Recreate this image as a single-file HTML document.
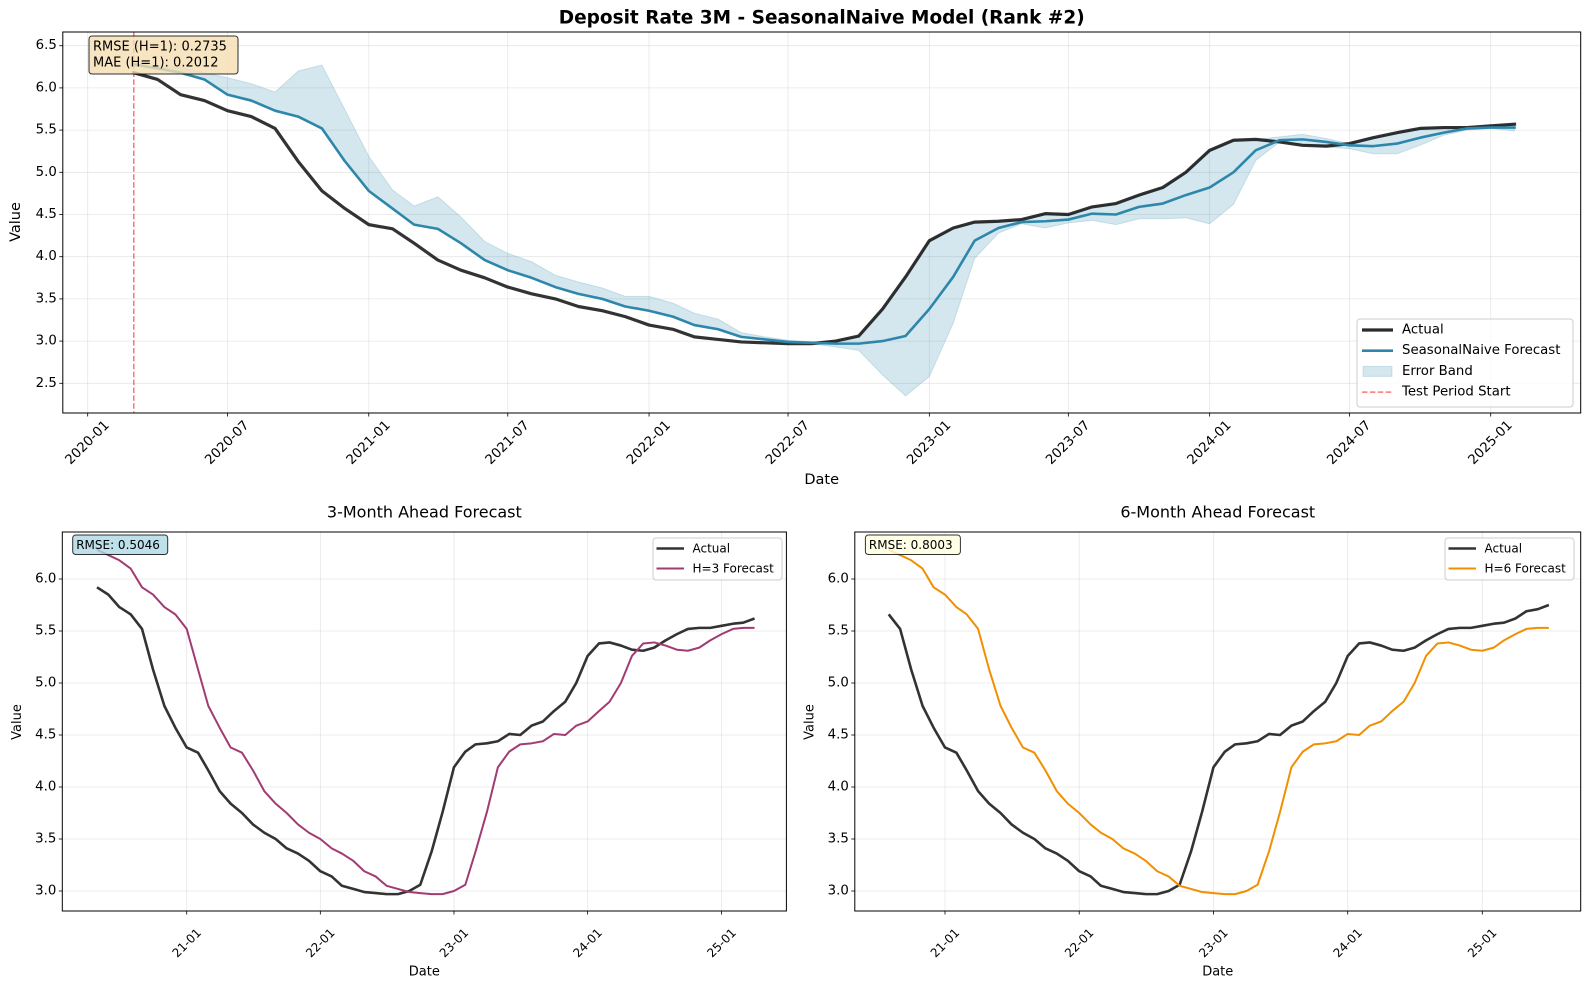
<!DOCTYPE html>
<html><head><meta charset="utf-8"><title>Deposit Rate 3M - SeasonalNaive</title>
<style>
html,body{margin:0;padding:0;background:#fff;}
svg{display:block;font-family:"DejaVu Sans","Liberation Sans",sans-serif;}
</style></head>
<body>
<svg id="fig" width="1589" height="989" viewBox="0 0 1589 989" xmlns="http://www.w3.org/2000/svg"></svg>
<script>
// ---------- DATA ----------
// Top panel: monthly dates 2020-03 .. 2025-02
const topStart = [2020, 3];
const topActual = [6.18,6.10,5.92,5.85,5.73,5.66,5.52,5.13,4.78,4.57,
  4.38,4.33,4.16,3.96,3.84,3.75,3.64,3.56,3.50,3.41,3.36,3.29,
  3.19,3.14,3.05,3.02,2.99,2.98,2.97,2.97,3.00,3.06,3.38,3.76,
  4.19,4.34,4.41,4.42,4.44,4.51,4.50,4.59,4.63,4.73,4.82,5.00,
  5.26,5.38,5.39,5.36,5.32,5.31,5.34,5.41,5.47,5.52,5.53,5.53,
  5.55,5.57];
const topForecast = [6.28,6.23,6.18,6.10,5.92,5.85,5.73,5.66,5.52,5.13,
  4.78,4.57,4.38,4.33,4.16,3.96,3.84,3.75,3.64,3.56,3.50,3.41,
  3.36,3.29,3.19,3.14,3.05,3.02,2.99,2.98,2.97,2.97,3.00,3.06,
  3.38,3.76,4.19,4.34,4.41,4.42,4.44,4.51,4.50,4.59,4.63,4.73,
  4.82,5.00,5.26,5.38,5.39,5.36,5.32,5.31,5.34,5.41,5.47,5.52,
  5.53,5.53];
const bandUpper = [6.25,6.26,6.24,6.18,6.12,6.05,5.95,6.20,6.27,5.74,
  5.19,4.79,4.60,4.71,4.47,4.18,4.04,3.94,3.78,3.70,3.63,3.53,
  3.53,3.45,3.33,3.26,3.10,3.05,3.01,2.99,3.00,3.06,3.38,3.76,
  4.19,4.34,4.41,4.42,4.44,4.51,4.50,4.59,4.63,4.73,4.82,5.00,
  5.26,5.38,5.39,5.42,5.45,5.40,5.34,5.41,5.47,5.52,5.53,5.53,
  5.55,5.57];
const bandLower = [6.28,6.23,6.18,6.10,5.92,5.85,5.73,5.66,5.52,5.13,
  4.78,4.57,4.38,4.33,4.16,3.96,3.84,3.75,3.64,3.56,3.50,3.41,
  3.36,3.29,3.19,3.14,3.05,3.02,2.99,2.97,2.93,2.89,2.60,2.35,
  2.58,3.21,3.98,4.28,4.39,4.34,4.40,4.43,4.38,4.45,4.45,4.46,
  4.39,4.62,5.14,5.36,5.33,5.30,5.28,5.22,5.22,5.32,5.44,5.50,
  5.52,5.49];
const topYTicks = [2.5,3.0,3.5,4.0,4.5,5.0,5.5,6.0,6.5];
const topYTickLabels = ["2.5","3.0","3.5","4.0","4.5","5.0","5.5","6.0","6.5"];
const topXTicks = [[2020,1],[2020,7],[2021,1],[2021,7],[2022,1],[2022,7],[2023,1],[2023,7],[2024,1],[2024,7],[2025,1]];
const topXTickLabels = ["2020-01","2020-07","2021-01","2021-07","2022-01","2022-07","2023-01","2023-07","2024-01","2024-07","2025-01"];
const testStart = [2020, 3];

// H=3 panel: monthly dates 2020-05 .. 2025-04
const h3Start = [2020, 5];
const h3Actual = [5.92,5.85,5.73,5.66,5.52,5.13,4.78,4.57,
  4.38,4.33,4.16,3.96,3.84,3.75,3.64,3.56,3.50,3.41,3.36,3.29,
  3.19,3.14,3.05,3.02,2.99,2.98,2.97,2.97,3.00,3.06,3.38,3.76,
  4.19,4.34,4.41,4.42,4.44,4.51,4.50,4.59,4.63,4.73,4.82,5.00,
  5.26,5.38,5.39,5.36,5.32,5.31,5.34,5.41,5.47,5.52,5.53,5.53,
  5.55,5.57,5.58,5.62];
const h3Forecast = [6.28,6.23,6.18,6.10,5.92,5.85,5.73,5.66,
  5.52,5.13,4.78,4.57,4.38,4.33,4.16,3.96,3.84,3.75,3.64,3.56,
  3.50,3.41,3.36,3.29,3.19,3.14,3.05,3.02,2.99,2.98,2.97,2.97,
  3.00,3.06,3.38,3.76,4.19,4.34,4.41,4.42,4.44,4.51,4.50,4.59,
  4.63,4.73,4.82,5.00,5.26,5.38,5.39,5.36,5.32,5.31,5.34,5.41,
  5.47,5.52,5.53,5.53];

// H=6 panel: monthly dates 2020-08 .. 2025-07
const h6Start = [2020, 8];
const h6Actual = [5.66,5.52,5.13,4.78,4.57,
  4.38,4.33,4.16,3.96,3.84,3.75,3.64,3.56,3.50,3.41,3.36,3.29,
  3.19,3.14,3.05,3.02,2.99,2.98,2.97,2.97,3.00,3.06,3.38,3.76,
  4.19,4.34,4.41,4.42,4.44,4.51,4.50,4.59,4.63,4.73,4.82,5.00,
  5.26,5.38,5.39,5.36,5.32,5.31,5.34,5.41,5.47,5.52,5.53,5.53,
  5.55,5.57,5.58,5.62,5.69,5.71,5.75];
const h6Forecast = [6.28,6.23,6.18,6.10,5.92,
  5.85,5.73,5.66,5.52,5.13,4.78,4.57,4.38,4.33,4.16,3.96,3.84,
  3.75,3.64,3.56,3.50,3.41,3.36,3.29,3.19,3.14,3.05,3.02,2.99,
  2.98,2.97,2.97,3.00,3.06,3.38,3.76,4.19,4.34,4.41,4.42,4.44,
  4.51,4.50,4.59,4.63,4.73,4.82,5.00,5.26,5.38,5.39,5.36,5.32,
  5.31,5.34,5.41,5.47,5.52,5.53,5.53];
const botYTicks = [3.0,3.5,4.0,4.5,5.0,5.5,6.0];
const botYTickLabels = ["3.0","3.5","4.0","4.5","5.0","5.5","6.0"];
const botXTicks = [[2021,1],[2022,1],[2023,1],[2024,1],[2025,1]];
const botXTickLabels = ["21-01","22-01","23-01","24-01","25-01"];

// ---------- HELPERS ----------
const NS = "http://www.w3.org/2000/svg";
const svg = document.getElementById('fig');
function mk(tag, attrs, parent){
  const e = document.createElementNS(NS, tag);
  for (const k in attrs) e.setAttribute(k, attrs[k]);
  (parent||svg).appendChild(e);
  return e;
}
function days(y,m){ return Date.UTC(y, m-1, 1)/86400000; }
function monthSeq(start, n){
  const out=[]; let y=start[0], m=start[1];
  for(let i=0;i<n;i++){ out.push([y,m]); m++; if(m>12){m=1;y++;} }
  return out;
}
function makeX(d0, x0, d1, x1){ return d => x0 + (days(d[0],d[1]) - days(d0[0],d0[1])) * (x1-x0)/(days(d1[0],d1[1]) - days(d0[0],d0[1])); }
function makeY(v0, y0, v1, y1){ return v => y0 + (v - v0) * (y1-y0)/(v1-v0); }
function pathD(dates, vals, X, Y){
  return vals.map((v,i)=>(i?'L':'M')+X(dates[i]).toFixed(2)+','+Y(v).toFixed(2)).join(' ');
}

function axesFrame(p, name){
  const g = mk('g', {});
  
  
  // clip
  const cp = mk('clipPath', {id: name+'-clip'}, g);
  mk('rect', {x:p.l, y:p.t, width:p.r-p.l, height:p.b-p.t}, cp);
  return g;
}

function drawAxes(p, g, xTicks, xLabels, yTicks, yLabels, X, Y, xRot, xlabOff, xlabY, xlabel, ylabX, ylabel, labelSize, tickSize){
  // grid
  const grid = mk('g', {}, g);
  
  
  xTicks.forEach(t=>{ const x=X(t); mk('line',{x1:x,x2:x,y1:p.t,y2:p.b,stroke:'#b0b0b0','stroke-opacity':0.3,'stroke-width':0.8},grid); });
  yTicks.forEach(v=>{ const y=Y(v); mk('line',{x1:p.l,x2:p.r,y1:y,y2:y,stroke:'#b0b0b0','stroke-opacity':0.3,'stroke-width':0.8},grid); });
}
function drawTicks(p, g, xTicks, xLabels, yTicks, yLabels, X, Y, xlabOff, xFont, yFont){
  const tg = mk('g', {}, g);
  
  
  xTicks.forEach((t,i)=>{
    const x=X(t);
    mk('line',{x1:x,x2:x,y1:p.b,y2:p.b+3.5,stroke:'#000','stroke-width':0.8},tg);
    const cy = p.b + xlabOff;
    const tx = mk('text',{x:x,y:cy,'font-size':xFont,'text-anchor':'middle','dominant-baseline':'central',transform:'rotate(-45 '+x+' '+cy+')',fill:'#000'},tg);
    tx.textContent = xLabels[i];
    
    
  });
  const yg = mk('g', {}, g);
  
  
  yTicks.forEach((v,i)=>{
    const y=Y(v);
    mk('line',{x1:p.l-3.5,x2:p.l,y1:y,y2:y,stroke:'#000','stroke-width':0.8},yg);
    const tx = mk('text',{x:p.l-6,y:y,'font-size':yFont,'text-anchor':'end','dominant-baseline':'central',fill:'#000'},yg);
    tx.textContent = yLabels[i];
    
    
  });
  mk('rect',{x:p.l,y:p.t,width:p.r-p.l,height:p.b-p.t,fill:'none',stroke:'#000','stroke-width':1},g);
}
function label(txt, x, y, size, opts, name){
  const a = Object.assign({x:x,y:y,'font-size':size,'text-anchor':'middle','dominant-baseline':'central',fill:'#000'}, opts||{});
  const t = mk('text', a);
  t.textContent = txt;
  
  
  return t;
}

// ---------- TOP PANEL ----------
(function(){
  const p = {l:62.8, r:1580.7, t:32, b:413};
  const X = makeX([2020,1], 87.7, [2025,1], 1490.7);
  const Y = makeY(6.5, 45.7, 2.5, 383.3);
  const g = axesFrame(p, 'main-chart');
  drawAxes(p, g, topXTicks, topXTickLabels, topYTicks, topYTickLabels, X, Y);
  const dates = monthSeq(topStart, topActual.length);
  const plot = mk('g', {'clip-path':'url(#main-chart-clip)'}, g);
  // band
  let d = bandUpper.map((v,i)=>(i?'L':'M')+X(dates[i]).toFixed(2)+','+Y(v).toFixed(2)).join(' ');
  for (let i=bandLower.length-1;i>=0;i--) d += ' L'+X(dates[i]).toFixed(2)+','+Y(bandLower[i]).toFixed(2);
  const band = mk('path',{d:d+' Z',fill:'#2e86ab','fill-opacity':0.2,stroke:'#2e86ab','stroke-opacity':0.2,'stroke-width':1},plot);
  
  
  // test start
  const tsx = X(testStart);
  const ts = mk('line',{x1:tsx,x2:tsx,y1:p.t,y2:p.b,stroke:'#ff0000','stroke-opacity':0.55,'stroke-width':1.5,'stroke-dasharray':'5.5,2.4'},plot);
  
  
  const act = mk('path',{d:pathD(dates, topActual, X, Y),fill:'none',stroke:'#000','stroke-opacity':0.8,'stroke-width':3.2,'stroke-linejoin':'round','stroke-linecap':'square'},plot);
  
  
  const fc = mk('path',{d:pathD(dates, topForecast, X, Y),fill:'none',stroke:'#2e86ab','stroke-width':2.6,'stroke-linejoin':'round','stroke-linecap':'square'},plot);
  
  
  drawTicks(p, g, topXTicks, topXTickLabels, topYTicks, topYTickLabels, X, Y, 30, 13.3, 13.3);

  // stats box
  const sb = mk('g', {});
  
  
  mk('rect',{x:89,y:36,width:149,height:38,rx:3,fill:'#f5deb3','fill-opacity':0.8,stroke:'#000','stroke-opacity':0.8,'stroke-width':1},sb);
  let t1 = mk('text',{x:93,y:47,'font-size':13,'dominant-baseline':'central',fill:'#000'},sb); t1.textContent='RMSE (H=1): 0.2735';
   
  let t2 = mk('text',{x:93,y:63,'font-size':13,'dominant-baseline':'central',fill:'#000'},sb); t2.textContent='MAE (H=1): 0.2012';
   

  // legend
  const lg = mk('g', {});
  
  
  mk('rect',{x:1357,y:319,width:216,height:88,rx:3,fill:'#fff','fill-opacity':0.8,stroke:'#ccc','stroke-width':1},lg);
  const items = [['Actual','line','#2b2b2b',3.2],['SeasonalNaive Forecast','line','#2e86ab',2.6],['Error Band','patch','',0],['Test Period Start','dash','#ff6b6b',1.5]];
  items.forEach((it,i)=>{
    const y = 330 + i*20.7;
    const e = mk('g',{},lg);
    
    
    if (it[1]==='line') mk('line',{x1:1362,x2:1393,y1:y,y2:y,stroke:it[2],'stroke-width':it[3]},e);
    else if (it[1]==='patch') mk('rect',{x:1363,y:y-5,width:29,height:10,fill:'#2e86ab','fill-opacity':0.2,stroke:'#2e86ab','stroke-opacity':0.2},e);
    else mk('line',{x1:1362,x2:1393,y1:y,y2:y,stroke:'#ff0000','stroke-opacity':0.55,'stroke-width':1.5,'stroke-dasharray':'5.5,2.4'},e);
    const tx = mk('text',{x:1402,y:y,'font-size':13.3,'dominant-baseline':'central',fill:'#000'},e);
    tx.textContent = it[0];
  });

  label('Deposit Rate 3M - SeasonalNaive Model (Rank #2)', 821.7, 18, 18.5, {'font-weight':'bold'}, 'chart-title');
  label('Value', 16, 222, 14.5, {transform:'rotate(-90 16 222)'}, 'y-axis-title');
  label('Date', 821.7, 480, 14.5, {}, 'x-axis-title');
})();

// ---------- BOTTOM PANELS ----------
function bottomPanel(opts){
  const p = opts.p;
  const X = makeX([2021,1], opts.x21, [2025,1], opts.x25);
  const Y = makeY(6.0, 579, 3.0, 891);
  const g = axesFrame(p, opts.name);
  drawAxes(p, g, botXTicks, botXTickLabels, botYTicks, botYTickLabels, X, Y);
  const dates = monthSeq(opts.start, opts.actual.length);
  const plot = mk('g', {'clip-path':'url(#'+opts.name+'-clip)'}, g);
  const a = mk('path',{d:pathD(dates, opts.actual, X, Y),fill:'none',stroke:'#000','stroke-opacity':0.8,'stroke-width':2.6,'stroke-linejoin':'round'},plot);
  
  
  const f = mk('path',{d:pathD(dates, opts.forecast, X, Y),fill:'none',stroke:opts.color,'stroke-width':2,'stroke-linejoin':'round'},plot);
  
  
  drawTicks(p, g, botXTicks, botXTickLabels, botYTicks, botYTickLabels, X, Y, 32, 12, 13.3);

  const cx = (p.l+p.r)/2;
  label(opts.title, cx, 512, 16, {}, opts.name+'-title');
  label('Date', cx, 972, 13, {}, 'x-axis-title');
  const vx = p.l-45;
  label('Value', vx, 722, 13, {transform:'rotate(-90 '+vx+' 722)'}, 'y-axis-title');

  const rb = mk('g',{});
  
  
  mk('rect',{x:opts.boxX,y:535,width:95,height:19.5,rx:3,fill:opts.boxFill,'fill-opacity':0.8,stroke:'#000','stroke-opacity':0.8,'stroke-width':1},rb);
  const rt = mk('text',{x:opts.boxX+3.5,y:545,'font-size':12,'dominant-baseline':'central',fill:'#000'},rb);
  rt.textContent = opts.rmse;

  const lg = mk('g',{});
  
  
  mk('rect',{x:opts.legX,y:538,width:129,height:42,rx:3,fill:'#fff','fill-opacity':0.8,stroke:'#ccc','stroke-width':1},lg);
  const e1 = mk('g',{},lg);
  
  
  mk('line',{x1:opts.legX+3.5,x2:opts.legX+31,y1:548.5,y2:548.5,stroke:'#333','stroke-width':2.6},e1);
  const l1 = mk('text',{x:opts.legX+39.5,y:548.5,'font-size':12,'dominant-baseline':'central',fill:'#000'},e1); l1.textContent='Actual';
  const e2 = mk('g',{},lg);
  
  
  mk('line',{x1:opts.legX+3.5,x2:opts.legX+31,y1:568.5,y2:568.5,stroke:opts.color,'stroke-width':2},e2);
  const l2 = mk('text',{x:opts.legX+39.5,y:568.5,'font-size':12,'dominant-baseline':'central',fill:'#000'},e2); l2.textContent=opts.legLabel;
}

bottomPanel({name:'h3-chart', p:{l:62.3,r:786.4,t:532,b:911}, x21:186.7, x25:721.6, start:h3Start, actual:h3Actual, forecast:h3Forecast,
  color:'#a23b72', fname:'h3-forecast-line', title:'3-Month Ahead Forecast', rmse:'RMSE: 0.5046', boxX:72.7, boxFill:'#add8e6', legX:653, legLabel:'H=3 Forecast'});
bottomPanel({name:'h6-chart', p:{l:854.8,r:1580.7,t:532,b:911}, x21:945, x25:1482.3, start:h6Start, actual:h6Actual, forecast:h6Forecast,
  color:'#f18f01', fname:'h6-forecast-line', title:'6-Month Ahead Forecast', rmse:'RMSE: 0.8003', boxX:865.4, boxFill:'#ffffe0', legX:1445, legLabel:'H=6 Forecast'});
</script>
</body></html>
